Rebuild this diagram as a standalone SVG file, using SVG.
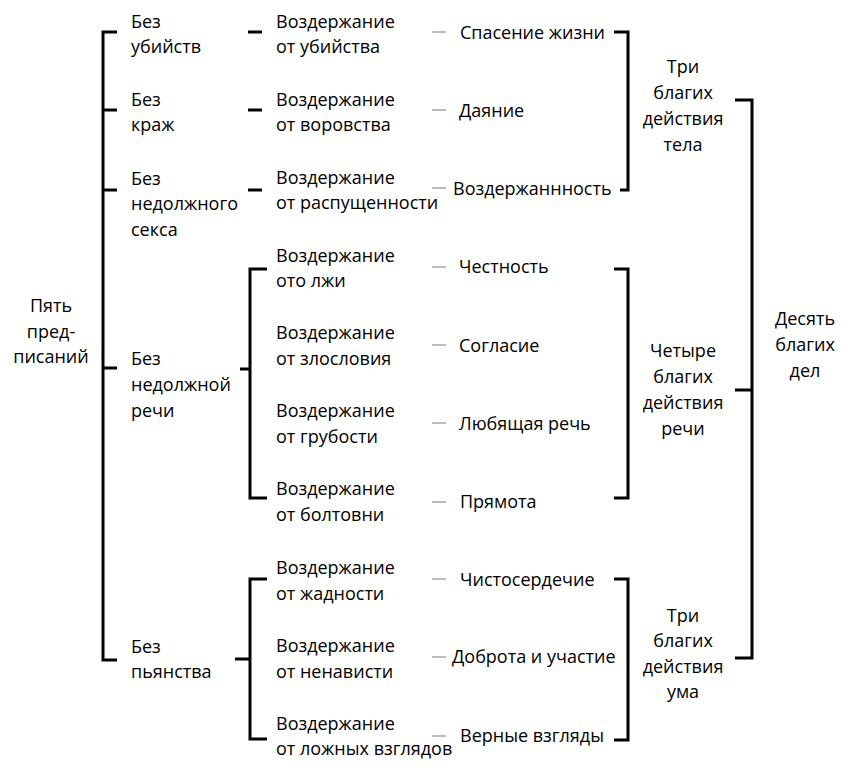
<svg xmlns="http://www.w3.org/2000/svg" width="860" height="780" viewBox="0 0 860 780">
<style>
text{font-family:"Open Sans","Noto Sans","DejaVu Sans",sans-serif;font-size:18px;fill:#000}
.c{text-anchor:middle}
.b{fill:none;stroke:#000;stroke-width:3}
.g{fill:none;stroke:#a6a6a6;stroke-width:1.5}
</style>
<rect width="860" height="780" fill="#fff"/>
<g id="connectors">
<path class="b" d="M117,32H103V660H117M103,110H117M103,190H117M103,368H117"/>
<path class="b" d="M248,32H262M248,110H262M248,190H262"/>
<path class="b" d="M267,269H250V498H267M240,369H250"/>
<path class="b" d="M267,579H250V739H267M235,659H250"/>
<path class="g" d="M432,32H446M432,110H446M432,188H446M432,267H446M432,345H446M432,423H446M432,502H446M432,579H446M432,657H446M432,736H446"/>
<path class="b" d="M614,32H628V190H620"/>
<path class="b" d="M614,269H628V498H614"/>
<path class="b" d="M614,579H628V740H614"/>
<path class="b" d="M735,100H752V658H735M735,390H752"/>
</g>
<g id="n-five"><text class="c" x="51" y="312">Пять</text><text class="c" x="51" y="338">пред-</text><text class="c" x="51" y="363">писаний</text></g>
<g id="n-p1"><text x="131" y="28">Без</text><text x="131" y="53">убийств</text></g>
<g id="n-p2"><text x="131" y="106">Без</text><text x="131" y="131">краж</text></g>
<g id="n-p3"><text x="131" y="185">Без</text><text x="131" y="210">недолжного</text><text x="131" y="236">секса</text></g>
<g id="n-p4"><text x="131" y="365">Без</text><text x="131" y="391">недолжной</text><text x="131" y="417">речи</text></g>
<g id="n-p5"><text x="131" y="653">Без</text><text x="131" y="678">пьянства</text></g>
<g id="n-a1"><text x="276" y="28">Воздержание</text><text x="276" y="53">от убийства</text></g>
<g id="n-a2"><text x="276" y="106">Воздержание</text><text x="276" y="131">от воровства</text></g>
<g id="n-a3"><text x="276" y="184">Воздержание</text><text x="276" y="209">от распущенности</text></g>
<g id="n-a4"><text x="276" y="262">Воздержание</text><text x="276" y="287">ото лжи</text></g>
<g id="n-a5"><text x="276" y="339">Воздержание</text><text x="276" y="365">от злословия</text></g>
<g id="n-a6"><text x="276" y="417">Воздержание</text><text x="276" y="443">от грубости</text></g>
<g id="n-a7"><text x="276" y="495">Воздержание</text><text x="276" y="521">от болтовни</text></g>
<g id="n-a8"><text x="276" y="574">Воздержание</text><text x="276" y="600">от жадности</text></g>
<g id="n-a9"><text x="276" y="652">Воздержание</text><text x="276" y="678">от ненависти</text></g>
<g id="n-a10"><text x="276" y="730">Воздержание</text><text x="276" y="755">от ложных взглядов</text></g>
<g id="n-v1"><text x="460" y="39">Спасение жизни</text></g>
<g id="n-v2"><text x="459" y="117">Даяние</text></g>
<g id="n-v3"><text x="453" y="195">Воздержаннность</text></g>
<g id="n-v4"><text x="459" y="273">Честность</text></g>
<g id="n-v5"><text x="459" y="352">Согласие</text></g>
<g id="n-v6"><text x="459" y="430">Любящая речь</text></g>
<g id="n-v7"><text x="460" y="508">Прямота</text></g>
<g id="n-v8"><text x="460" y="586">Чистосердечие</text></g>
<g id="n-v9"><text x="452" y="663">Доброта и участие</text></g>
<g id="n-v10"><text x="460" y="742">Верные взгляды</text></g>
<g id="n-body"><text class="c" x="683" y="73">Три</text><text class="c" x="683" y="99">благих</text><text class="c" x="683" y="125">действия</text><text class="c" x="683" y="151">тела</text></g>
<g id="n-speech"><text class="c" x="683" y="357">Четыре</text><text class="c" x="683" y="383">благих</text><text class="c" x="683" y="409">действия</text><text class="c" x="683" y="435">речи</text></g>
<g id="n-mind"><text class="c" x="683" y="622">Три</text><text class="c" x="683" y="647">благих</text><text class="c" x="683" y="673">действия</text><text class="c" x="683" y="698">ума</text></g>
<g id="n-ten"><text class="c" x="805" y="325">Десять</text><text class="c" x="805" y="351">благих</text><text class="c" x="805" y="377">дел</text></g>
</svg>
